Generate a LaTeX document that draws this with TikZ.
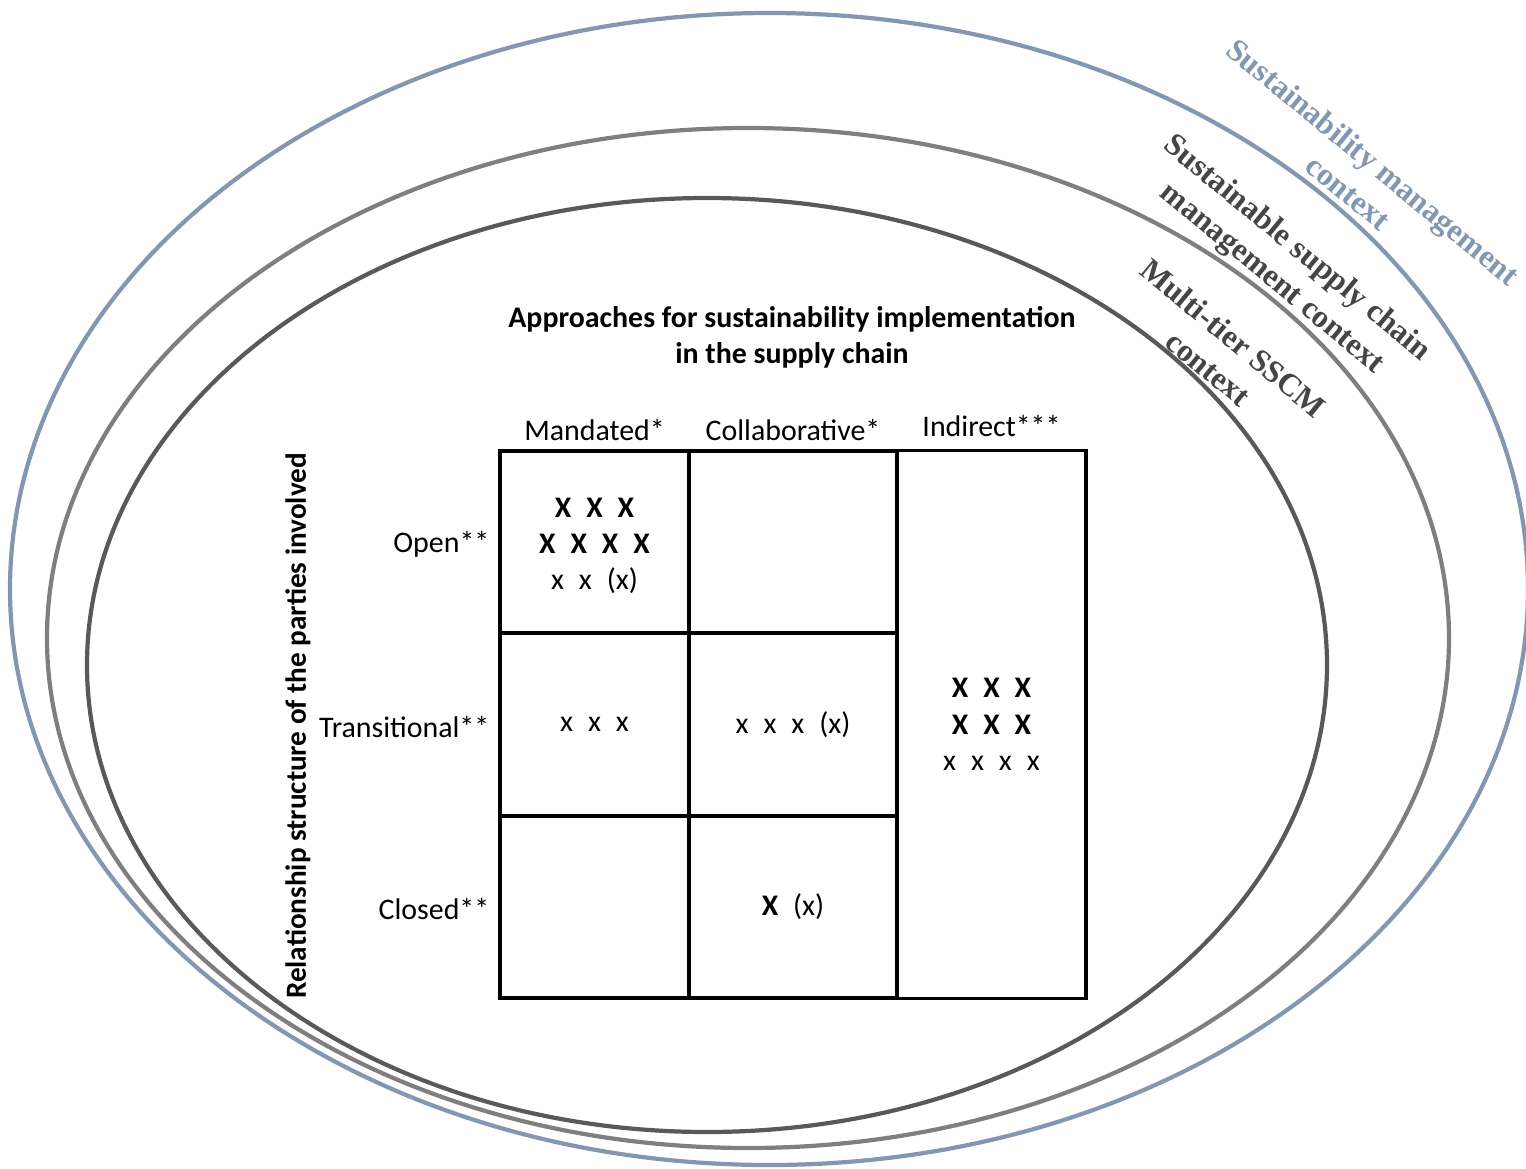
\documentclass[tikz,border=0pt]{standalone}
\usepackage{fontspec}
\setmainfont{Carlito}
\newfontfamily\ctxfont{Liberation Serif}
\definecolor{ctxblue}{HTML}{8497B0}
\definecolor{ctxgray}{HTML}{7F7F7F}
\definecolor{ctxdark}{HTML}{595959}
\definecolor{ctxtext}{HTML}{454545}
\tikzset{
  ring/.style={line width=1.2pt},
  txt/.style={font=\fontsize{8.5}{10.3}\selectfont},
  cell/.style={draw, line width=0.9pt, inner sep=0pt, align=center, txt},
  rowlabel/.style={txt, anchor=east, inner sep=0pt},
  ctxlabel/.style={rotate=-39.5, align=center, inner sep=0pt,
    font=\ctxfont\bfseries\fontsize{9}{11.1}\selectfont},
}
\newcommand{\xb}{\textbf{X}}
\begin{document}
\begin{tikzpicture}[x=0.01cm,y=0.01cm]
\useasboundingbox (0,0) rectangle (1526,-1169);
% contexts
\draw[ring,ctxblue] (769,-589) ellipse[x radius=759,y radius=576];
\draw[ring,ctxgray] (748,-638) ellipse[x radius=701,y radius=510];
\draw[ring,ctxdark] (707,-665) ellipse[x radius=620,y radius=467];
\node[ctxlabel, text=ctxblue] (smc) at (1361,-177) {Sustainability management\\context};
\node[ctxlabel, text=ctxtext] (sscm) at (1284,-264) {Sustainable supply chain\\management context};
\node[ctxlabel, text=ctxtext] (mtier) at (1221,-353) {Multi-tier SSCM\\context};
% headings
\node[txt, font=\bfseries\fontsize{8.5}{10.3}\selectfont, align=center] (title) at (792,-337)
  {Approaches for sustainability implementation\\in the supply chain};
\node[txt] (hman) at (594.5,-430) {Mandated*};
\node[txt] (hcol) at (793,-430) {Collaborative*};
\node[txt] (hind) at (991.5,-426) {Indirect***};
\node[txt, rotate=90, font=\bfseries\fontsize{8.3}{10}\selectfont] (rel) at (298,-726)
  {Relationship structure of the parties involved};
\node[rowlabel] (ropen) at (490,-544) {Open**};
\node[rowlabel] (rtrans) at (490,-727) {Transitional**};
\node[rowlabel] (rclosed) at (490,-909) {Closed**};
% cells
\node[cell, minimum width=1.89cm, minimum height=1.82cm] (mo) at (594.5,-542) {};
\node[txt, align=center] (mox) at (594.5,-546)
  {\xb\enspace\xb\enspace\xb\\ \xb\enspace\xb\enspace\xb\enspace\xb\\ x\enspace x\enspace (x)};
\node[cell, minimum width=2.08cm, minimum height=1.82cm] (co) at (793,-542) {};
\node[cell, minimum width=1.89cm, minimum height=1.83cm] (mt) at (594.5,-724.5)
  {x\enspace x\enspace x};
\node[cell, minimum width=2.08cm, minimum height=1.83cm] (ct) at (793,-724.5)
  {x\enspace x\enspace x\enspace (x)};
\node[cell, minimum width=1.89cm, minimum height=1.82cm] (mcl) at (594.5,-907) {};
\node[cell, minimum width=2.08cm, minimum height=1.82cm] (ccl) at (793,-907)
  {\xb\enspace (x)};
\node[cell, minimum width=1.89cm, minimum height=5.47cm] (ind) at (991.5,-724.5)
  {\xb\enspace\xb\enspace\xb\\ \xb\enspace\xb\enspace\xb\\ x\enspace x\enspace x\enspace x};
\end{tikzpicture}
\end{document}
